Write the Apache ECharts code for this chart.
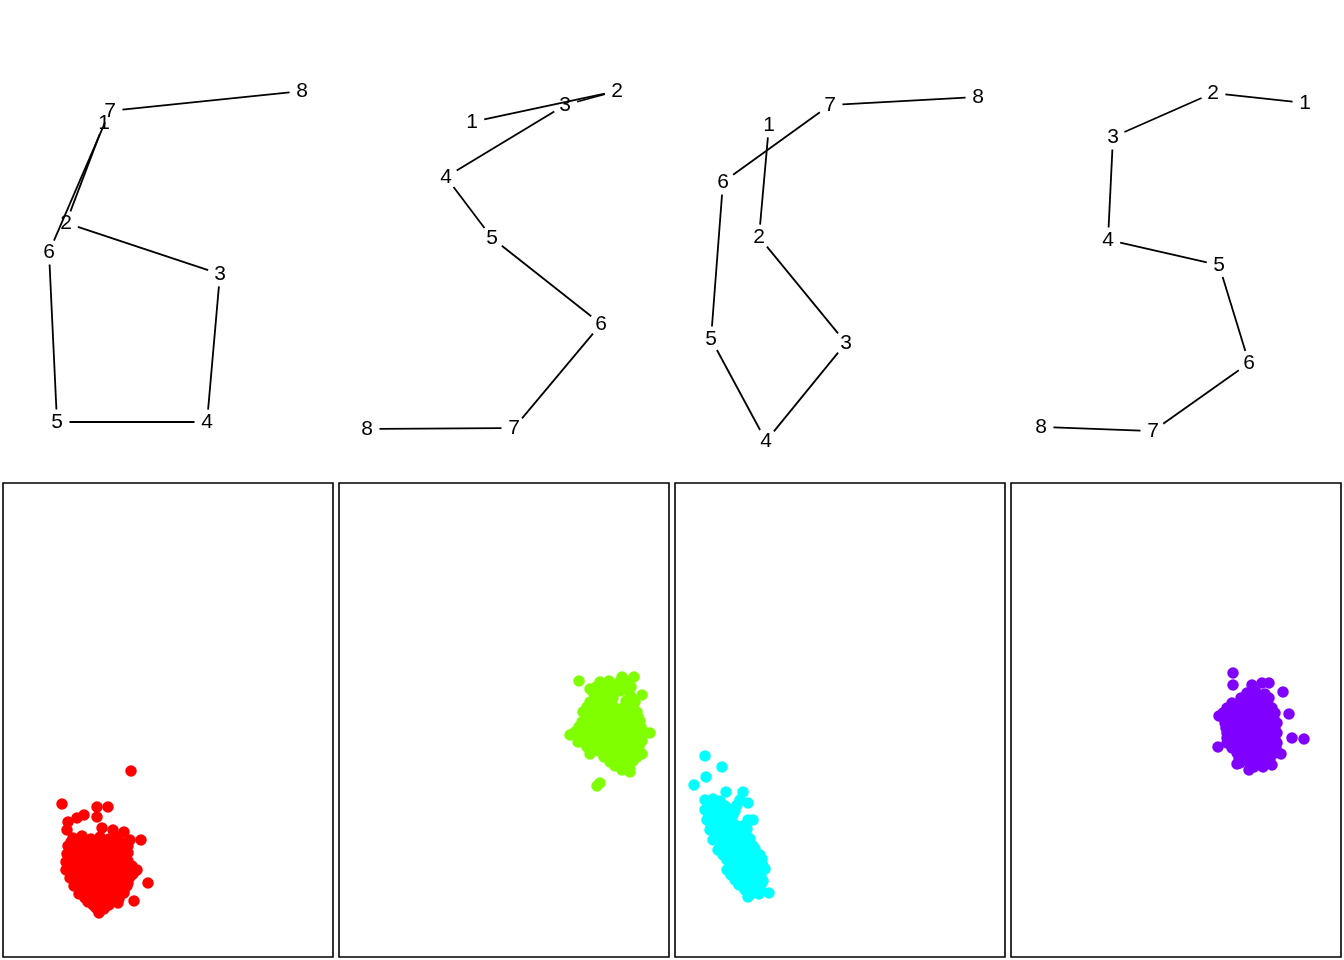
<!DOCTYPE html>
<html>
<head>
<meta charset="utf-8">
<script src="https://cdn.jsdelivr.net/npm/echarts@6/dist/echarts.min.js"></script>
<style>html,body{margin:0;padding:0;background:#fff}#chart{width:1344px;height:960px}</style>
</head>
<body>
<div id="chart"></div>
<script>
// ---- Data (panel coordinates: x from panel left, y upward) ----
const pointLabels = ['1','2','3','4','5','6','7','8'];

const path1 = [[104,357],[66,257],[220,206],[207,58],[57,58],[49,228],[110,369],[302,389]];
const path2 = [[136,358],[281,389],[229,375],[110,303],[156,242],[265,156],[178,52],[31,51]];
const path3 = [[97,355],[87,243],[174,137],[94,39],[39,141],[51,298],[158,375],[306,383]];
const path4 = [[297,377],[205,387],[105,343],[100,240],[211,215],[241,117],[145,49],[33,53]];

const clusterRed = [
  [128,186],[59,153],[94,150],[105,150],[81,142],[74,139],[65,135],[94,140],[64,127],[99,129],
  [110,127],[121,125],[127,117],[138,117],[134,87],[145,74],[131,56],[96,44],[115,54],
  [70,119],[79,121],[88,118],[97,120],[106,118],[114,120],
  [68,115],[77,115],[86,114],[95,115],[104,114],[113,115],[121,114],
  [65,111],[73,112],[82,110],[91,112],[100,110],[109,112],[118,110],[125,111],
  [68,107],[77,107],[86,106],[95,107],[104,106],[113,107],[121,106],
  [64,103],[72,104],[81,102],[90,104],[99,102],[108,104],[117,102],[125,104],
  [67,99],[76,99],[85,98],[94,99],[103,98],[112,99],[121,98],
  [63,95],[71,96],[80,94],[89,96],[98,94],[107,96],[116,94],[125,96],
  [67,91],[76,91],[85,90],[94,91],[103,90],[112,91],[121,90],[129,91],
  [63,87],[72,88],[81,86],[90,88],[99,86],[108,88],[117,86],[126,88],[132,86],
  [69,83],[78,83],[87,82],[96,83],[105,82],[114,83],[123,82],[130,83],
  [67,79],[76,80],[85,78],[94,80],[103,78],[112,80],[121,78],[127,80],
  [73,75],[82,75],[91,74],[100,75],[109,74],[118,75],[125,74],
  [71,71],[80,72],[89,70],[98,72],[107,70],[116,72],[124,71],
  [78,67],[87,67],[96,66],[105,67],[114,66],[121,67],
  [76,63],[85,64],[94,62],[103,64],[112,62],[121,64],
  [82,59],[90,59],[99,58],[108,59],[116,58],
  [85,55],[94,56],[103,54],[112,56],
  [90,52],[98,51],[106,52],
  [93,49],[101,48]
];

const clusterGreen = [
  [240,276],[295,280],[283,280],[251,268],[303,262],[231,222],[311,224],[303,203],[291,185],
  [261,174],[258,171],[251,203],[239,215],
  [261,275],[270,276],[279,274],[288,276],
  [257,270],[266,270],[275,269],[284,270],[292,270],
  [254,265],[263,266],[272,264],[281,266],[290,265],
  [256,260],[265,260],[274,259],[292,260],
  [251,255],[260,256],[269,254],[287,256],[296,255],
  [248,250],[257,250],[266,249],[275,250],[284,249],[293,250],
  [244,245],[253,246],[262,244],[271,246],[280,244],[289,246],[298,245],
  [247,240],[256,240],[265,239],[274,240],[283,239],[292,240],[299,240],
  [243,235],[252,236],[261,234],[270,236],[279,234],[288,236],[297,234],[301,236],
  [240,230],[249,230],[258,229],[267,230],[276,229],[285,230],[294,229],[302,230],
  [236,225],[245,226],[254,224],[263,226],[272,224],[281,226],[290,224],[299,226],[305,225],
  [240,220],[249,220],[258,219],[267,220],[276,219],[285,220],[294,219],[302,220],
  [243,215],[252,216],[261,214],[270,216],[279,214],[288,216],[297,214],[303,216],
  [248,210],[256,210],[265,209],[274,210],[283,209],[292,210],[300,210],
  [260,206],[269,204],[278,206],[287,204],[296,206],[301,204],
  [265,200],[274,200],[283,199],[292,200],[298,200],
  [271,195],[280,196],[289,194],[294,196],
  [276,191],[285,191],[290,190],
  [283,187],[291,188]
];

const clusterCyan = [
  [30,201],[47,190],[31,180],[19,172],[51,165],[68,165],[73,154],[78,137],[94,64],[73,60],
  [30,157],[38,158],[45,156],[65,157],
  [34,152],[42,152],[50,151],[62,152],
  [30,147],[38,148],[46,146],[54,148],[60,146],
  [34,142],[42,142],[50,141],[58,142],
  [32,137],[40,138],[48,136],[56,138],[73,137],
  [36,132],[44,132],[52,131],[60,132],[68,131],
  [35,127],[43,128],[51,126],[59,128],[67,126],[72,128],
  [40,122],[48,122],[56,121],[64,122],[72,121],
  [38,117],[46,118],[54,116],[62,118],[70,116],[75,118],
  [46,112],[54,112],[62,111],[70,112],[78,111],
  [43,107],[51,108],[59,106],[67,108],[75,106],[80,108],
  [48,102],[56,102],[64,101],[72,102],[80,101],[85,102],
  [52,97],[60,98],[68,96],[76,98],[84,96],[87,98],
  [56,92],[64,92],[72,91],[80,92],[88,91],
  [52,87],[60,88],[68,86],[76,88],[84,86],[90,88],
  [56,82],[64,82],[72,81],[80,82],[86,81],
  [60,77],[68,78],[76,76],[84,78],[88,76],
  [64,72],[72,72],[80,71],[86,72],
  [70,67],[78,68],[86,66],
  [76,63],[84,63]
];

const clusterPurple = [
  [222,284],[222,272],[241,272],[251,274],[258,274],[272,265],[278,243],[281,219],[293,218],
  [207,210],[270,203],[261,192],[238,187],[226,193],[208,241],
  [236,264],[245,265],[254,263],
  [230,259],[240,259],[249,258],[258,259],
  [221,254],[230,255],[239,253],[248,255],[257,253],
  [216,249],[225,249],[234,248],[243,249],[252,248],[261,249],
  [212,244],[221,245],[230,243],[239,245],[248,243],[257,245],[264,244],
  [213,239],[218,239],[227,238],[236,239],[245,238],[254,239],[263,238],
  [214,234],[223,235],[232,233],[241,235],[250,233],[259,235],[266,234],
  [215,229],[220,229],[229,228],[238,229],[247,228],[256,229],[264,228],
  [216,224],[225,225],[234,223],[243,225],[252,223],[261,225],[266,224],
  [216,219],[220,219],[229,218],[238,219],[247,218],[256,219],[264,218],
  [216,214],[225,215],[234,213],[243,215],[252,213],[261,215],[266,214],
  [221,209],[230,209],[239,208],[248,209],[257,208],[265,209],
  [226,204],[235,205],[244,203],[253,205],[262,203],
  [228,199],[233,199],[242,198],[251,199],[259,198],
  [229,194],[238,195],[247,193],[256,195],
  [243,190],[252,190]
];

const paths = [path1, path2, path3, path4];
const clusters = [clusterRed, clusterGreen, clusterCyan, clusterPurple];
const clusterColors = ['#FF0000', '#80FF00', '#00FFFF', '#8000FF'];

// ---- Layout ----
const grids = [], xAxes = [], yAxes = [], series = [];
const GAP = 12.5;
for (let i = 0; i < 4; i++) {
  grids.push({ left: 336 * i, top: 0, width: 336, height: 480, show: false });
  xAxes.push({ type: 'value', gridIndex: i, min: 0, max: 336, show: false });
  yAxes.push({ type: 'value', gridIndex: i, min: 0, max: 480, show: false });
}
for (let i = 0; i < 4; i++) {
  grids.push({ left: 3 + 336 * i, top: 483, width: 330, height: 474, show: true,
    borderColor: '#000', borderWidth: 1.6, backgroundColor: 'transparent' });
  xAxes.push({ type: 'value', gridIndex: 4 + i, min: 0, max: 330, show: false });
  yAxes.push({ type: 'value', gridIndex: 4 + i, min: 0, max: 474, show: false });
}

paths.forEach(function (pts, k) {
  series.push({
    type: 'custom',
    coordinateSystem: 'cartesian2d',
    xAxisIndex: k, yAxisIndex: k,
    data: pts,
    clip: false,
    renderItem: function (params, api) {
      const idx = params.dataIndex;
      const p = api.coord(pts[idx]);
      const children = [{
        type: 'text',
        style: {
          text: pointLabels[idx], x: p[0], y: p[1],
          align: 'center', verticalAlign: 'middle',
          font: '21px "Liberation Sans", Arial, sans-serif', fill: '#000'
        }
      }];
      if (idx < pts.length - 1) {
        const q = api.coord(pts[idx + 1]);
        const dx = q[0] - p[0], dy = q[1] - p[1];
        const len = Math.sqrt(dx * dx + dy * dy);
        if (len > 2 * GAP) {
          const ux = dx / len, uy = dy / len;
          children.push({
            type: 'line',
            shape: { x1: p[0] + ux * GAP, y1: p[1] + uy * GAP, x2: q[0] - ux * GAP, y2: q[1] - uy * GAP },
            style: { stroke: '#000', lineWidth: 1.8 }
          });
        }
      }
      return { type: 'group', children: children };
    }
  });
});

clusters.forEach(function (pts, k) {
  series.push({
    type: 'scatter',
    xAxisIndex: 4 + k, yAxisIndex: 4 + k,
    data: pts,
    symbol: 'circle',
    symbolSize: 11.5,
    itemStyle: { color: clusterColors[k], opacity: 1 },
    emphasis: { disabled: true }
  });
});

const chart = echarts.init(document.getElementById('chart'), null, { renderer: 'canvas' });
chart.setOption({
  animation: false,
  backgroundColor: '#fff',
  grid: grids,
  xAxis: xAxes,
  yAxis: yAxes,
  series: series
});
</script>
</body>
</html>
